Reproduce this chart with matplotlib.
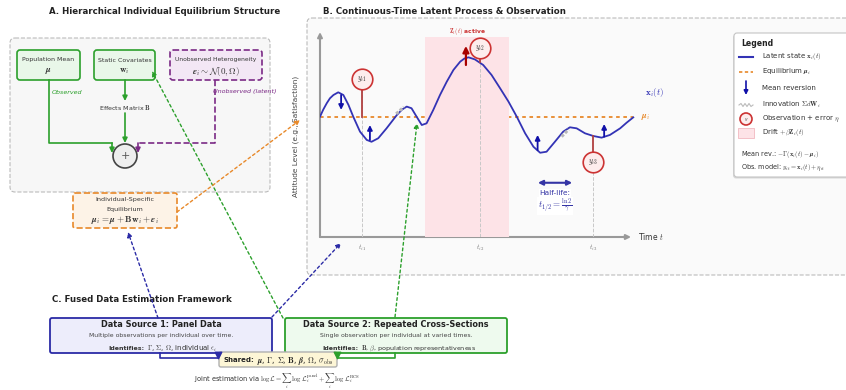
import matplotlib
matplotlib.use("Agg")
import matplotlib.pyplot as plt
from matplotlib.patches import FancyBboxPatch, Circle, Rectangle

plt.rcParams['font.family'] = ['DejaVu Sans']
plt.rcParams['mathtext.fontset'] = 'cm'

# ---------------- data: latent trajectory and observations ----------------
t_path = [0.00, 0.10, 0.21, 0.31, 0.42, 0.57, 0.73, 0.89, 1.04, 1.25, 1.46, 1.61,
          1.82, 2.08, 2.40, 2.56, 2.71, 2.86, 3.02, 3.18, 3.33, 3.54, 3.75, 3.96,
          4.17, 4.38, 4.51, 4.64, 4.84, 5.10, 5.36, 5.63, 5.89, 6.15, 6.41, 6.67,
          6.88, 7.08, 7.34, 7.60, 7.81, 8.02, 8.28, 8.54, 8.80, 9.06, 9.38, 9.58, 9.79]
x_path = [5.81, 6.15, 6.46, 6.70, 6.86, 6.99, 6.86, 6.38, 5.81, 5.09, 4.69, 4.60,
          4.77, 5.25, 5.89, 6.15, 6.30, 6.22, 5.81, 5.41, 5.49, 6.14, 6.86, 7.50,
          8.07, 8.47, 8.62, 8.68, 8.58, 8.31, 7.83, 7.18, 6.54, 5.81, 5.01, 4.36,
          4.07, 4.12, 4.60, 5.09, 5.30, 5.25, 5.01, 4.88, 4.80, 4.93, 5.25, 5.52, 5.78]
mu_i = 5.81
t_end = 9.79

t_obs = [1.30, 5.00, 8.52]
y_obs = [7.63, 9.14, 3.64]
obs_anchor = [5.81, 8.45, 4.88]
obs_labels = [r'$y_{i1}$', r'$y_{i2}$', r'$y_{i3}$']
tick_labels = [r'$t_{i1}$', r'$t_{i2}$', r'$t_{i3}$']

revert_t = [0.66, 1.56, 6.80, 8.88]
revert_from = [6.86, 4.69, 4.20, 4.85]
revert_to = [6.14, 5.41, 4.93, 5.46]

drift_window = [3.28, 5.91]
drift_top = 9.68
drift_arrow_t = 4.56
drift_arrow_y = [8.31, 9.23]

innov_t = [[2.38, 2.62], [7.55, 7.77]]
innov_x = [[5.95, 6.28], [4.85, 5.20]]

halflife_span = [6.81, 7.88]
halflife_level = 2.62

# ---------------- colours ----------------
GREEN = '#2ca02c'
GREEN_FILL = '#e9f7e9'
PURPLE = '#7b2a86'
PURPLE_FILL = '#f3e7f5'
ORANGE = '#e8892a'
ORANGE_FILL = '#fdf3e7'
NAVY = '#2b2ba6'
NAVY_FILL = '#ededfb'
CURVE = '#3333b5'
ARROW_BLUE = '#1010a8'
RED = '#cc3333'
RED_DARK = '#a80000'
PINK = '#fde3e7'
GREY = '#999999'
TXT = '#333333'

W, H = 846, 390
fig = plt.figure(figsize=(W / 100, H / 100), dpi=100)

ax_bg = fig.add_axes([0, 0, 1, 1], zorder=0)
ax_bg.set_xlim(0, W); ax_bg.set_ylim(H, 0); ax_bg.axis('off')

ax_top = fig.add_axes([0, 0, 1, 1], zorder=2)
ax_top.set_xlim(0, W); ax_top.set_ylim(H, 0); ax_top.axis('off')
ax_top.patch.set_alpha(0)


def rbox(ax, x0, y0, x1, y1, fc, ec, lw=1.2, ls='-', r=3, z=2):
    p = FancyBboxPatch((x0, y0), x1 - x0, y1 - y0,
                       boxstyle=f"round,pad=0,rounding_size={r}",
                       fc=fc, ec=ec, lw=lw, ls=ls, zorder=z)
    ax.add_patch(p)
    return p


def arrow(ax, start, end, color, lw=1.0, ls='-', ms=7, z=5):
    ax.annotate('', xy=end, xytext=start,
                arrowprops=dict(arrowstyle='-|>', color=color, lw=lw, ls=ls,
                                mutation_scale=ms, shrinkA=0, shrinkB=0),
                zorder=z)


def bold_lead(ax, x, y, lead, rest, size, rest_size, color='#333333', z=5):
    """Bold lead-in word followed by regular text on the same baseline."""
    t = ax.text(x, y, lead, ha='left', va='baseline', fontsize=size,
                fontweight='bold', color=color, zorder=z)
    ax.annotate(rest, xy=(1, 0), xycoords=t, xytext=(2, 0), textcoords='offset points',
                ha='left', va='baseline', fontsize=rest_size, color=color, zorder=z)


# ================= Panel A =================
ax_bg.text(165, 11, 'A. Hierarchical Individual Equilibrium Structure',
           ha='center', va='center', fontsize=6.2, fontweight='bold', color='#222222')
rbox(ax_bg, 10, 38, 270, 192, '#f7f7f7', '#bbbbbb', lw=0.8, ls='--', r=5, z=1)

rbox(ax_bg, 17, 50, 80, 80, GREEN_FILL, GREEN)
ax_bg.text(48.5, 60, 'Population Mean', ha='center', va='center', fontsize=4.5, color=TXT, zorder=3)
ax_bg.text(48.5, 71, r'$\boldsymbol{\mu}$', ha='center', va='center', fontsize=6.5, color=TXT, zorder=3)

rbox(ax_bg, 94, 50, 155, 80, GREEN_FILL, GREEN)
ax_bg.text(124.5, 60, 'Static Covariates', ha='center', va='center', fontsize=4.5, color=TXT, zorder=3)
ax_bg.text(124.5, 71, r'$\mathbf{w}_i$', ha='center', va='center', fontsize=6.5, color=TXT, zorder=3)

rbox(ax_bg, 170, 50, 262, 80, PURPLE_FILL, PURPLE, ls='--')
ax_bg.text(216, 60, 'Unobserved Heterogeneity', ha='center', va='center', fontsize=4.3, color=TXT, zorder=3)
ax_bg.text(216, 71, r'$\boldsymbol{\epsilon}_i \sim \mathcal{N}(\mathbf{0}, \mathbf{\Omega})$',
           ha='center', va='center', fontsize=6.5, color=TXT, zorder=3)

# flows into the summation node
ax_bg.plot([49, 49, 112], [80, 143, 143], color=GREEN, lw=1.2, zorder=2)
arrow(ax_bg, (112, 143), (112, 153), GREEN, lw=1.2)
arrow(ax_bg, (125, 80), (125, 101), GREEN, lw=1.2)
arrow(ax_bg, (125, 113), (125, 143), GREEN, lw=1.2)
ax_bg.plot([215, 215, 138], [80, 143, 143], color=PURPLE, lw=1.2, ls='--', zorder=2)
arrow(ax_bg, (138, 143), (138, 153), PURPLE, lw=1.2)

ax_bg.text(67, 92, 'Observed', ha='center', va='center', fontsize=4.6,
           style='italic', color=GREEN, zorder=3)
ax_bg.text(245, 91, 'Unobserved (latent)', ha='center', va='center', fontsize=4.6,
           style='italic', color=PURPLE, zorder=3)
ax_bg.text(125, 107, r'Effects Matrix $\mathbf{B}$', ha='center', va='center',
           fontsize=4.6, color=TXT, zorder=3)

ax_bg.add_patch(Circle((125, 156), 12, fc='#eeeeee', ec='#444444', lw=1.2, zorder=3))
ax_bg.text(125, 156, '+', ha='center', va='center', fontsize=8, color='#555555', zorder=4)

rbox(ax_bg, 73, 193, 177, 228, ORANGE_FILL, ORANGE, ls='--', r=2)
ax_bg.text(125, 199, 'Individual-Specific', ha='center', va='center', fontsize=4.6, color=TXT, zorder=3)
ax_bg.text(125, 209, 'Equilibrium', ha='center', va='center', fontsize=4.6, color=TXT, zorder=3)
ax_bg.text(125, 220, r'$\boldsymbol{\mu}_i = \boldsymbol{\mu} + \mathbf{B}\mathbf{w}_i + \boldsymbol{\epsilon}_i$',
           ha='center', va='center', fontsize=6.5, color=TXT, zorder=3)

# ================= Panel B =================
ax_bg.text(323, 12, 'B. Continuous-Time Latent Process & Observation',
           ha='left', va='center', fontsize=6.2, fontweight='bold', color='#222222')
rbox(ax_bg, 307, 18, 870, 275, '#fafafa', '#bbbbbb', lw=0.8, ls='--', r=5, z=1)

axB = fig.add_axes([320 / W, 1 - 237 / H, 320 / W, 207 / H], zorder=1)
axB.set_xlim(0, 10); axB.set_ylim(0, 10); axB.axis('off')
axB.patch.set_alpha(0)

# axes with arrow heads
axB.annotate('', xy=(0, 9.9), xytext=(0, 0),
             arrowprops=dict(arrowstyle='-|>', color=GREY, lw=1.5, mutation_scale=7,
                             shrinkA=0, shrinkB=0), annotation_clip=False)
axB.annotate('', xy=(9.72, 0), xytext=(0, 0),
             arrowprops=dict(arrowstyle='-|>', color=GREY, lw=1.5, mutation_scale=7,
                             shrinkA=0, shrinkB=0), annotation_clip=False)
axB.text(9.94, 0, r'Time $t$', ha='left', va='center', fontsize=5.5, color=TXT)

# equilibrium, drift window, latent path
axB.plot([0, t_end], [mu_i, mu_i], color=ORANGE, lw=1.3, ls=(0, (2, 2)), zorder=2)
axB.add_patch(Rectangle((drift_window[0], 0), drift_window[1] - drift_window[0], drift_top,
                        fc=PINK, ec='none', zorder=3))
axB.text(sum(drift_window) / 2, 9.92, r'$\mathbf{Z}_i(t)$ active', ha='center', va='center',
         fontsize=4.3, color=RED, fontweight='bold')
axB.plot(t_path, x_path, color=CURVE, lw=1.3, zorder=5, solid_joinstyle='round')

# observation times
for t, y, a, lab, tl in zip(t_obs, y_obs, obs_anchor, obs_labels, tick_labels):
    axB.plot([t, t], [0, y], color='#c8c8c8', lw=0.7, ls='--', zorder=4)
    axB.plot([t, t], [a, y], color='#b04040', lw=1.3, zorder=6)
    axB.scatter([t], [y], s=220, fc='#fdeded', ec=RED, lw=1.2, zorder=7)
    axB.text(t, y, lab, ha='center', va='center', fontsize=5.5, color=TXT, zorder=8)
    axB.text(t, -0.3, tl, ha='center', va='top', fontsize=4.8, color='#777777')

# mean-reversion pulls
for t, y0, y1 in zip(revert_t, revert_from, revert_to):
    axB.annotate('', xy=(t, y1), xytext=(t, y0),
                 arrowprops=dict(arrowstyle='-|>', color=ARROW_BLUE, lw=1.3,
                                 mutation_scale=7, shrinkA=0, shrinkB=0), zorder=6)
axB.annotate('', xy=(drift_arrow_t, drift_arrow_y[1]), xytext=(drift_arrow_t, drift_arrow_y[0]),
             arrowprops=dict(arrowstyle='-|>', color=RED_DARK, lw=1.6,
                             mutation_scale=9, shrinkA=0, shrinkB=0), zorder=6)

# innovation shocks
for tt, xx in zip(innov_t, innov_x):
    axB.plot(tt, xx, color='#b8b8b8', lw=2.2, ls=(0, (1, 0.6)), zorder=6)

# half-life
axB.annotate('', xy=(halflife_span[1], halflife_level), xytext=(halflife_span[0], halflife_level),
             arrowprops=dict(arrowstyle='<|-|>', color='#3535a5', lw=1.5,
                             mutation_scale=7, shrinkA=0, shrinkB=0))
hx = sum(halflife_span) / 2
axB.text(hx, 2.12, 'Half-life:', ha='center', va='center', fontsize=5.3, color='#3535a5',
         bbox=dict(fc='white', ec='none', pad=0.5))
axB.text(hx, 1.5, r'$t_{1/2} = \frac{\ln 2}{\gamma}$', ha='center', va='center', fontsize=6.5,
         color='#3535a5', bbox=dict(fc='white', ec='none', pad=0.5))

axB.text(10.16, 6.96, r'$\mathbf{x}_i(t)$', ha='left', va='center', fontsize=6.5, color=CURVE)
axB.text(10.03, 5.81, r'$\boldsymbol{\mu}_i$', ha='left', va='center', fontsize=6.5, color=ORANGE)

ax_top.text(296, 136, 'Attitude Level (e.g., Satisfaction)', rotation=90, ha='center',
            va='center', fontsize=5.3, color='#444444')

# ---------------- legend ----------------
rbox(ax_top, 733, 34.5, 872, 178.5, '#d8d8d8', 'none', lw=0, r=3, z=1)
rbox(ax_top, 734, 33, 872, 177, 'white', '#c4c4c4', lw=0.8, r=3, z=2)
ax_top.text(741, 43, 'Legend', ha='left', va='center', fontsize=5.6, fontweight='bold', color='#222222', zorder=3)
ax_top.plot([739, 753], [57, 57], color=CURVE, lw=1.5, zorder=3)
ax_top.plot([739, 753], [72, 72], color=ORANGE, lw=1.2, ls=(0, (2, 1.5)), zorder=3)
arrow(ax_top, (746, 81), (746, 95), ARROW_BLUE, lw=1.2, ms=6, z=3)
ax_top.plot([739, 741, 743, 745, 747, 749, 751, 753], [105, 103.5, 106.5, 103.5, 106.5, 103.5, 106.5, 105],
            color='#bbbbbb', lw=0.8, zorder=3)
ax_top.add_patch(Circle((746, 119), 6, fc='#fdeded', ec=RED, lw=1.2, zorder=3))
ax_top.text(746, 119.5, r'$y$', ha='center', va='center', fontsize=3.5, color=TXT, zorder=4)
ax_top.add_patch(Rectangle((738, 128), 16, 10, fc=PINK, ec='#f2b8c0', lw=0.6, zorder=3))
leg_items = [(57, r'Latent state $\mathbf{x}_i(t)$'),
             (72, r'Equilibrium $\boldsymbol{\mu}_i$'),
             (88, 'Mean reversion'),
             (105, r'Innovation $\mathbf{\Sigma}d\mathbf{W}_i$'),
             (119, r'Observation + error $\eta$'),
             (133, r'Drift $+\beta\mathbf{Z}_i(t)$')]
for y, s in leg_items:
    ax_top.text(762, y, s, ha='left', va='center', fontsize=5, color=TXT, zorder=3)
ax_top.text(741, 155, r'Mean rev.: $-\mathbf{\Gamma}(\mathbf{x}_i(t) - \boldsymbol{\mu}_i)$',
            ha='left', va='center', fontsize=4.7, color=TXT, zorder=3)
ax_top.text(741, 168, r'Obs. model: $y_{it} = \mathbf{x}_i(t) + \eta_{it}$',
            ha='left', va='center', fontsize=4.7, color=TXT, zorder=3)

# ================= Panel C =================
ax_bg.text(52, 300, 'C. Fused Data Estimation Framework', ha='left', va='center',
           fontsize=6.2, fontweight='bold', color='#222222')

rbox(ax_bg, 50, 318, 272, 353, NAVY_FILL, NAVY, lw=1.3, r=2)
ax_bg.text(161, 324.5, 'Data Source 1: Panel Data', ha='center', va='center',
           fontsize=5.9, fontweight='bold', color='#222222', zorder=3)
ax_bg.text(161, 336, 'Multiple observations per individual over time.', ha='center',
           va='center', fontsize=4.4, color='#444444', zorder=3)
bold_lead(ax_bg, 108, 349.5, 'Identifies:',
          r'$\mathbf{\Gamma}$, $\mathbf{\Sigma}$, $\mathbf{\Omega}$, individual $\epsilon_i$', 4.5, 5.0)

rbox(ax_bg, 285, 318, 507, 353, '#eefaee', GREEN, lw=1.3, r=2)
ax_bg.text(396, 324.5, 'Data Source 2: Repeated Cross-Sections', ha='center', va='center',
           fontsize=5.9, fontweight='bold', color='#222222', zorder=3)
ax_bg.text(396, 336, 'Single observation per individual at varied times.', ha='center',
           va='center', fontsize=4.4, color='#444444', zorder=3)
bold_lead(ax_bg, 322, 349.5, 'Identifies:',
          r'$\mathbf{B}$, $\beta$, population representativeness', 4.5, 4.6)

ax_bg.plot([160, 160, 218], [353, 357.5, 357.5], color=NAVY, lw=1.2, zorder=2)
ax_bg.plot([395, 395, 337], [353, 357.5, 357.5], color=GREEN, lw=1.2, zorder=2)
rbox(ax_bg, 219, 352, 337, 367, '#fdf6d6', '#b0b0b0', lw=1.0, r=2, z=4)
ax_bg.scatter([218], [355], marker='v', s=22, color=NAVY, zorder=5)
ax_bg.scatter([337], [355], marker='v', s=22, color=GREEN, zorder=5)
bold_lead(ax_bg, 223, 362, 'Shared:',
          r'$\boldsymbol{\mu}$, $\mathbf{\Gamma}$, $\mathbf{\Sigma}$, $\mathbf{B}$, $\boldsymbol{\beta}$, $\mathbf{\Omega}$, $\sigma_{\rm obs}$',
          5.0, 5.8, color='#222222')

ax_bg.text(277, 382, r'Joint estimation via $\log\mathcal{L} = \sum_i\,\log\mathcal{L}_i^{\rm panel} + \sum_i\,\log\mathcal{L}_i^{\rm RCS}$',
           ha='center', va='center', fontsize=4.8, color='#333333')

# ================= cross-panel links =================
arrow(ax_top, (158, 318), (128, 232), NAVY, lw=1.0, ls=(0, (2, 2)), ms=7)
arrow(ax_top, (272, 317), (341, 243), NAVY, lw=1.0, ls=(0, (2, 2)), ms=7)
arrow(ax_top, (283, 318), (152, 71), GREEN, lw=1.0, ls=(0, (2, 2)), ms=7)
arrow(ax_top, (395, 317), (417, 123), GREEN, lw=1.0, ls=(0, (2, 2)), ms=7)
arrow(ax_top, (177, 212), (300, 120), ORANGE, lw=1.0, ls=(0, (2, 2)), ms=7)

fig.savefig('out.png', dpi=100)
